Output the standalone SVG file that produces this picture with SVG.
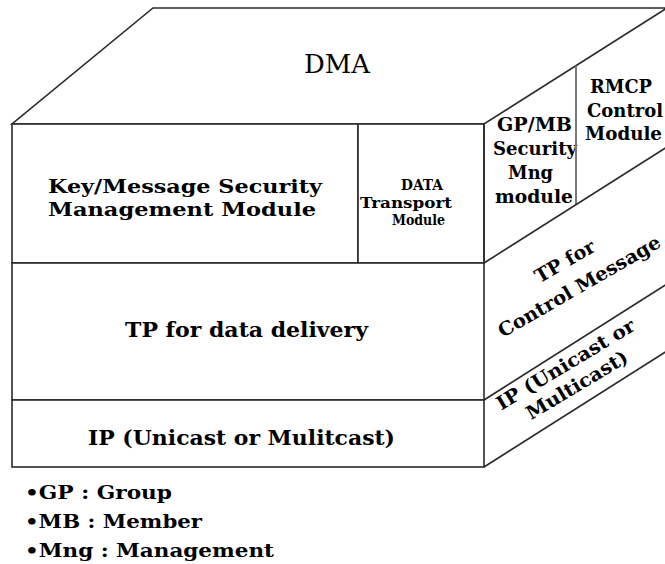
<svg xmlns="http://www.w3.org/2000/svg" width="665" height="564" viewBox="0 0 665 564">
<style>
.ln{fill:#fff;stroke:#2a2a2a;stroke-width:1.6}
.sl{fill:none;stroke:#2a2a2a;stroke-width:1.6}
.dv{fill:none;stroke:#7a7a7a;stroke-width:2}
</style>
<rect width="665" height="564" fill="#fff"/>
<g font-family="DejaVu Serif, Liberation Serif, serif" font-weight="bold" fill="#000">
<g id="dma">
<polygon class="ln" points="153,8 667,8 484,124 12,124"/>
<text x="304" y="73" font-size="26" font-weight="normal" textLength="66" lengthAdjust="spacingAndGlyphs">DMA</text>
</g>
<g id="key-message">
<rect class="ln" x="12" y="124" width="346" height="139"/>
<text x="48" y="193" font-size="19" textLength="274" lengthAdjust="spacingAndGlyphs">Key/Message Security</text>
<text x="48" y="216" font-size="19" textLength="268" lengthAdjust="spacingAndGlyphs">Management Module</text>
</g>
<g id="data-transport">
<rect class="ln" x="358" y="124" width="126" height="139"/>
<text x="401" y="190" font-size="15" textLength="42" lengthAdjust="spacingAndGlyphs">DATA</text>
<text x="360" y="208" font-size="15" textLength="92" lengthAdjust="spacingAndGlyphs">Transport</text>
<text x="392" y="225" font-size="15" textLength="53" lengthAdjust="spacingAndGlyphs">Module</text>
</g>
<g id="tp-data">
<rect class="ln" x="12" y="263" width="472" height="137"/>
<text x="125" y="337" font-size="20" textLength="243" lengthAdjust="spacingAndGlyphs">TP for data delivery</text>
</g>
<g id="ip-front">
<rect class="ln" x="12" y="400" width="472" height="67"/>
<text x="88" y="445" font-size="20" textLength="307" lengthAdjust="spacingAndGlyphs">IP (Unicast or Mulitcast)</text>
</g>
<g id="gpmb">
<polyline class="sl" points="484,124 484,263"/>
<text x="497" y="131" font-size="18" textLength="75" lengthAdjust="spacingAndGlyphs">GP/MB</text>
<text x="493" y="155" font-size="18" textLength="84" lengthAdjust="spacingAndGlyphs">Security</text>
<text x="508" y="179" font-size="18" textLength="45" lengthAdjust="spacingAndGlyphs">Mng</text>
<text x="495" y="203" font-size="18" textLength="78" lengthAdjust="spacingAndGlyphs">module</text>
</g>
<g id="rmcp">
<line class="dv" x1="576" y1="66" x2="576" y2="205"/>
<text x="590" y="93" font-size="18" textLength="62" lengthAdjust="spacingAndGlyphs">RMCP</text>
<text x="587" y="117" font-size="18" textLength="76" lengthAdjust="spacingAndGlyphs">Control</text>
<text x="585" y="140" font-size="18" textLength="77" lengthAdjust="spacingAndGlyphs">Module</text>
</g>
<g id="tp-control">
<line class="sl" x1="484" y1="263" x2="667" y2="147"/>
<g transform="translate(568,267) rotate(-30)">
<text x="0" y="0" font-size="19" text-anchor="middle" textLength="66" lengthAdjust="spacingAndGlyphs">TP for</text>
<text x="0" y="29" font-size="19" text-anchor="middle" textLength="184" lengthAdjust="spacingAndGlyphs">Control Message</text>
</g>
</g>
<g id="ip-side">
<line class="sl" x1="484" y1="400" x2="667" y2="284"/>
<line class="sl" x1="484" y1="467" x2="667" y2="351"/>
<g transform="translate(569,370) rotate(-31)">
<text x="0" y="0" font-size="19" text-anchor="middle" textLength="158" lengthAdjust="spacingAndGlyphs">IP (Unicast or</text>
<text x="-1" y="23.5" font-size="19" text-anchor="middle" textLength="115" lengthAdjust="spacingAndGlyphs">Multicast)</text>
</g>
</g>
<g id="legend">
<text x="25" y="499" font-size="19" textLength="147" lengthAdjust="spacingAndGlyphs">•GP : Group</text>
<text x="25" y="528" font-size="19" textLength="177" lengthAdjust="spacingAndGlyphs">•MB : Member</text>
<text x="25" y="557" font-size="19" textLength="249" lengthAdjust="spacingAndGlyphs">•Mng : Management</text>
</g>
</g>
<g id="connectors"></g>
</svg>
